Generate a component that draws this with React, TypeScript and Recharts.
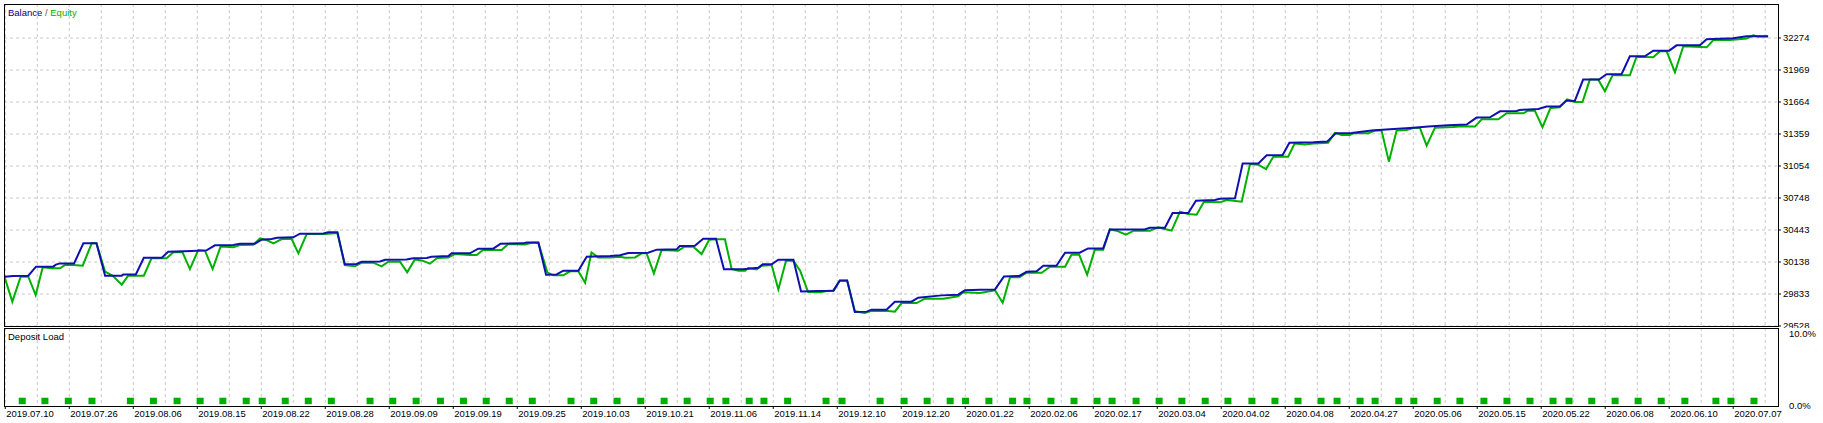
import { LineChart, ComposedChart, Line, Bar, XAxis, YAxis, CartesianGrid } from "recharts";

// x unit: one vertical grid step; a date label sits on every second step
const dateLabels = [
  "2019.07.10", "2019.07.26", "2019.08.06", "2019.08.15", "2019.08.22", "2019.08.28", "2019.09.09",
  "2019.09.19", "2019.09.25", "2019.10.03", "2019.10.21", "2019.11.06", "2019.11.14", "2019.12.10",
  "2019.12.20", "2020.01.22", "2020.02.06", "2020.02.17", "2020.03.04", "2020.04.02", "2020.04.08",
  "2020.04.27", "2020.05.06", "2020.05.15", "2020.05.22", "2020.06.08", "2020.06.10", "2020.07.07",
];
const priceTicks = [29528, 29833.1, 30138.2, 30443.3, 30748.4, 31053.6, 31358.7, 31663.8, 31968.9, 32274];
const loadTicks = [0, 10];

const balance: [number, number][] = [
  [-0.02, 29998], [0.25, 30005], [0.72, 30008], [0.96, 30094], [1.5, 30094], [1.58, 30113], [1.71, 30125],
  [2.15, 30125], [2.44, 30316], [2.85, 30316], [3.12, 30008], [3.64, 30008], [3.69, 30020], [4.08, 30020],
  [4.33, 30179], [4.89, 30179], [5.09, 30236], [5.82, 30243], [6.29, 30249], [6.55, 30297], [7.13, 30300],
  [7.33, 30313], [7.8, 30313], [8.01, 30351], [8.32, 30357], [8.5, 30370], [9.0, 30373], [9.21, 30408],
  [9.94, 30411], [10.09, 30421], [10.38, 30421], [10.61, 30116], [10.98, 30119], [11.14, 30141], [11.71, 30144],
  [11.87, 30160], [12.54, 30163], [12.75, 30173], [13.17, 30176], [13.32, 30189], [13.85, 30195], [13.95, 30221],
  [14.52, 30221], [14.78, 30265], [15.25, 30265], [15.48, 30313], [16.19, 30316], [16.29, 30325], [16.66, 30325],
  [16.9, 30017], [17.23, 30020], [17.44, 30055], [17.91, 30055], [18.17, 30189], [18.9, 30195], [19.21, 30202],
  [19.47, 30224], [20.09, 30227], [20.36, 30256], [20.98, 30259], [21.08, 30290], [21.55, 30294], [21.81, 30360],
  [22.21, 30360], [22.46, 30068], [23.06, 30068], [23.53, 30084], [23.67, 30116], [23.95, 30116], [24.16, 30160],
  [24.63, 30160], [24.87, 29858], [25.36, 29862], [25.88, 29865], [26.08, 29963], [26.31, 29963], [26.55, 29661],
  [26.92, 29665], [27.07, 29684], [27.54, 29684], [27.8, 29760], [28.32, 29760], [28.53, 29798], [29.26, 29820],
  [29.78, 29827], [29.99, 29868], [30.46, 29874], [30.93, 29877], [31.21, 30001], [31.69, 30005], [31.92, 30046],
  [32.23, 30049], [32.44, 30103], [32.85, 30103], [33.12, 30227], [33.58, 30227], [33.84, 30268], [34.31, 30268],
  [34.52, 30449], [35.61, 30449], [35.77, 30465], [36.24, 30465], [36.48, 30605], [36.97, 30605], [37.21, 30723],
  [37.8, 30729], [37.96, 30742], [38.43, 30745], [38.67, 31078], [39.16, 31078], [39.42, 31155], [39.92, 31158],
  [40.13, 31275], [40.88, 31279], [41.31, 31286], [41.58, 31365], [42.07, 31369], [42.7, 31391], [43.27, 31403],
  [43.9, 31416], [44.47, 31429], [45.09, 31442], [45.67, 31448], [45.98, 31515], [46.4, 31518], [46.71, 31575],
  [47.23, 31578], [47.33, 31588], [47.91, 31597], [48.17, 31620], [48.58, 31620], [48.79, 31677], [49.05, 31674],
  [49.31, 31877], [49.81, 31877], [50.04, 31928], [50.51, 31928], [50.77, 32099], [51.24, 32099], [51.5, 32153],
  [52.0, 32153], [52.23, 32204], [52.96, 32204], [53.17, 32261], [54.0, 32271], [54.42, 32290], [55.09, 32290],
];

const equity: [number, number][] = [
  [-0.02, 29992], [0.22, 29760], [0.48, 29998], [0.72, 29998], [0.95, 29823], [1.17, 30087], [1.45, 30078],
  [1.71, 30078], [1.86, 30109], [2.13, 30109], [2.42, 30103], [2.7, 30316], [2.85, 30316], [3.12, 30046],
  [3.35, 30008], [3.64, 29922], [3.84, 30008], [4.33, 30008], [4.57, 30173], [5.04, 30173], [5.25, 30230],
  [5.54, 30230], [5.77, 30071], [6.03, 30252], [6.24, 30246], [6.48, 30071], [6.73, 30287], [7.13, 30278],
  [7.33, 30300], [7.75, 30303], [7.96, 30364], [8.17, 30348], [8.38, 30316], [8.64, 30357], [8.95, 30357],
  [9.16, 30221], [9.42, 30405], [9.99, 30405], [10.38, 30414], [10.61, 30109], [10.93, 30097], [11.14, 30132],
  [11.5, 30132], [11.76, 30097], [11.97, 30141], [12.33, 30144], [12.56, 30040], [12.8, 30163], [13.04, 30151],
  [13.27, 30122], [13.5, 30176], [13.84, 30182], [14.05, 30214], [14.52, 30205], [14.73, 30205], [14.94, 30256],
  [15.25, 30252], [15.51, 30252], [15.72, 30310], [16.24, 30306], [16.45, 30322], [16.66, 30322], [16.94, 30040],
  [17.13, 30011], [17.44, 30011], [17.65, 30049], [17.91, 30049], [18.12, 29941], [18.32, 30230], [18.53, 30182],
  [18.9, 30182], [19.21, 30189], [19.37, 30179], [19.68, 30182], [19.89, 30221], [20.04, 30221], [20.27, 30030],
  [20.51, 30252], [21.03, 30246], [21.24, 30287], [21.5, 30284], [21.76, 30214], [22.0, 30351], [22.23, 30354],
  [22.49, 30354], [22.7, 30071], [22.91, 30055], [23.12, 30055], [23.22, 30081], [23.48, 30068], [23.64, 30103],
  [23.95, 30109], [24.16, 29877], [24.4, 30151], [24.63, 30151], [24.84, 30055], [25.09, 29852], [25.46, 29849],
  [25.72, 29865], [25.88, 29865], [26.08, 29960], [26.31, 29960], [26.55, 29668], [26.86, 29652], [27.07, 29674],
  [27.6, 29671], [27.8, 29665], [28.01, 29747], [28.48, 29747], [28.74, 29789], [29.31, 29789], [29.78, 29811],
  [29.94, 29849], [30.46, 29843], [30.93, 29868], [31.17, 29750], [31.4, 29992], [31.69, 29992], [31.92, 30036],
  [32.39, 30036], [32.65, 30094], [33.12, 30094], [33.32, 30208], [33.56, 30208], [33.81, 30017], [34.05, 30256],
  [34.31, 30256], [34.52, 30449], [34.73, 30437], [35.02, 30399], [35.27, 30437], [35.77, 30437], [36.03, 30468],
  [36.45, 30437], [36.71, 30618], [36.97, 30596], [37.23, 30589], [37.46, 30713], [37.96, 30707], [38.17, 30729],
  [38.64, 30713], [38.9, 31072], [39.16, 31066], [39.4, 31024], [39.63, 31142], [40.09, 31142], [40.3, 31269],
  [40.61, 31259], [40.88, 31269], [41.34, 31276], [41.55, 31369], [41.76, 31349], [42.02, 31349], [42.13, 31365],
  [42.6, 31365], [42.8, 31391], [43.01, 31391], [43.24, 31095], [43.48, 31391], [43.79, 31397], [44.0, 31416],
  [44.21, 31416], [44.42, 31248], [44.68, 31419], [45.25, 31426], [45.51, 31432], [45.93, 31429], [46.14, 31499],
  [46.66, 31499], [46.92, 31556], [47.44, 31556], [47.59, 31581], [47.8, 31581], [48.04, 31423], [48.29, 31607],
  [48.58, 31613], [48.81, 31689], [49.05, 31664], [49.29, 31664], [49.52, 31877], [49.78, 31877], [49.99, 31766],
  [50.23, 31918], [50.77, 31918], [50.98, 32096], [51.5, 32090], [51.71, 32147], [51.92, 32147], [52.18, 31947],
  [52.44, 32195], [53.17, 32185], [53.38, 32255], [53.9, 32255], [54.42, 32268], [54.63, 32299], [54.78, 32287],
  [55.09, 32287],
];

// deposit load marks (every one is the same small block)
const loadT = [
  0.52, 1.23, 1.96, 2.7, 3.9, 4.62, 5.36, 6.08, 6.79, 7.52, 8.02, 8.74, 9.46, 10.18, 11.39, 12.1, 12.83, 13.59,
  14.31, 15.02, 15.74, 16.46, 17.67, 18.38, 19.11, 19.85, 20.58, 21.3, 22.02, 22.51, 23.24, 23.7, 24.44, 25.64,
  26.14, 27.33, 28.08, 28.8, 29.52, 30.0, 30.73, 31.47, 31.92, 32.67, 33.39, 34.11, 34.58, 35.33, 36.05, 36.76,
  37.49, 38.2, 38.95, 39.67, 40.39, 41.11, 41.61, 42.33, 42.8, 43.54, 44.01, 44.74, 45.45, 46.2, 46.92, 47.64,
  48.36, 48.86, 49.57, 50.3, 51.02, 51.74, 52.48, 53.45, 53.92, 54.64,
];
const loadRange: [number, number] = [0.25, 1.15];

const X_DOMAIN: [number, number] = [-0.04, 55.4];
const gridT = Array.from({ length: 56 }, (_, i) => i);
const labelT = dateLabels.map((_, i) => i * 2);

const FONT = "'Liberation Sans', Arial, sans-serif";
const FS = 9.5;
const GRID = "#c8c8c8";
const BLUE = "#1010b0";
const GREEN = "#00b000";

const balanceData = balance.map(([t, v]) => ({ t, v }));
const equityData = equity.map(([t, v]) => ({ t, v }));
const loadData = loadT.map((t) => ({ t, load: loadRange }));

function DateTick({ x, y, payload }: any) {
  const label = dateLabels[Math.round(payload.value / 2)];
  return (
    <text x={x + 1} y={y + 7} textAnchor="start" fill="#000" fontSize={FS} fontFamily={FONT}>
      {label}
    </text>
  );
}

export default function App() {
  return (
    <div style={{ position: "absolute", left: 0, top: 0, width: 1823, height: 423, background: "#fff" }}>
      <div style={{ position: "absolute", left: 0, top: 0 }}>
        <LineChart width={1823} height={328} margin={{ top: 4, right: 0, bottom: 2, left: 4 }}>
          <CartesianGrid stroke={GRID} strokeDasharray="3 3" verticalValues={gridT} horizontalValues={priceTicks} />
          <XAxis type="number" dataKey="t" domain={X_DOMAIN} ticks={gridT} hide allowDataOverflow />
          <YAxis
            orientation="right" width={45} domain={[29528, 32598]} ticks={priceTicks} interval={0}
            allowDataOverflow axisLine={false} stroke="#000" tickSize={3} tickMargin={2}
            tick={{ fill: "#000", fontSize: FS, fontFamily: FONT }}
            tickFormatter={(v: number) => String(Math.round(v))}
          />
          <Line data={equityData} dataKey="v" type="linear" stroke={GREEN} strokeWidth={2} dot={false} isAnimationActive={false} />
          <Line data={balanceData} dataKey="v" type="linear" stroke={BLUE} strokeWidth={2} dot={false} isAnimationActive={false} />
        </LineChart>
      </div>
      <div style={{ position: "absolute", left: 0, top: 328, background: "#fff" }}>
        <ComposedChart width={1823} height={95} data={loadData} margin={{ top: 0, right: 0, bottom: 0, left: 4 }}>
          <CartesianGrid stroke={GRID} strokeDasharray="3 3" horizontal={false} verticalValues={gridT} />
          <XAxis
            type="number" dataKey="t" domain={X_DOMAIN} ticks={labelT} interval={0} allowDataOverflow
            height={17} axisLine={false} stroke="#000" tickSize={3} tickMargin={1} tick={<DateTick />}
          />
          <YAxis
            orientation="right" width={45} domain={[0, 10.83]} ticks={loadTicks} interval={0} allowDataOverflow
            axisLine={false} tickLine={false} tickMargin={5}
            tick={{ fill: "#000", fontSize: FS, fontFamily: FONT }}
            tickFormatter={(v: number) => v.toFixed(1) + "%"}
          />
          <Bar dataKey="load" fill={GREEN} barSize={7} isAnimationActive={false} />
        </ComposedChart>
      </div>
      <svg width={1823} height={423} style={{ position: "absolute", left: 0, top: 0, pointerEvents: "none" }}>
        <rect x={4.5} y={4.5} width={1774} height={322} fill="none" stroke="#000" />
        <rect x={4.5} y={328.5} width={1774} height={78} fill="none" stroke="#000" />
        <text x={8} y={16} fontSize={FS} fontFamily={FONT}>
          <tspan fill="#000080">Balance</tspan>
          <tspan fill="#555"> / </tspan>
          <tspan fill={GREEN}>Equity</tspan>
        </text>
        <text x={8} y={340} fontSize={FS} fontFamily={FONT} fill="#000">Deposit Load</text>
      </svg>
    </div>
  );
}
